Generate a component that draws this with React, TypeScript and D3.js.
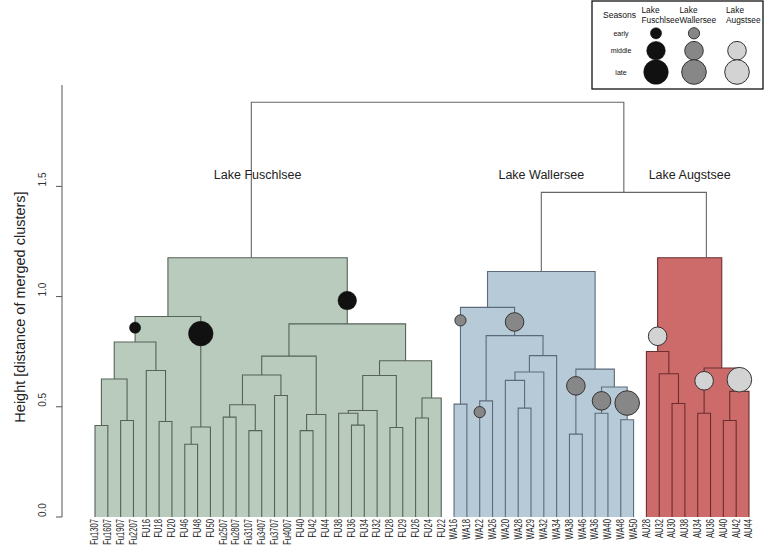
import React from "react";
import * as d3 from "d3";

// ---------- data ----------
const fuLeaves = ["Fu1307","Fu1607","Fu1907","Fu2207","FU16","FU18","FU20","FU46","FU48","FU50","Fu2507","Fu2807","Fu3107","Fu3407","Fu3707","Fu4007","FU40","FU42","FU44","FU38","FU36","FU34","FU32","FU28","FU29","FU26","FU24","FU22"];
const waLeaves = ["WA16","WA18","WA22","WA26","WA20","WA28","WA29","WA32","WA34","WA38","WA46","WA36","WA40","WA48","WA50"];
const auLeaves = ["AU28","AU32","AU30","AU38","AU34","AU36","AU40","AU42","AU44"];

type Merge = [string, string, string, number];

const fuMerges: Merge[] = [
  ["F1", "Fu1307", "Fu1607", 0.415],
  ["F2", "Fu1907", "Fu2207", 0.438],
  ["F3", "F1", "F2", 0.626],
  ["F4", "FU18", "FU20", 0.433],
  ["F5", "FU16", "F4", 0.665],
  ["F6", "F3", "F5", 0.794],
  ["F7", "FU46", "FU48", 0.330],
  ["F8", "F7", "FU50", 0.408],
  ["F9", "F6", "F8", 0.910],
  ["F10", "Fu2507", "Fu2807", 0.453],
  ["F11", "Fu3107", "Fu3407", 0.392],
  ["F12", "F10", "F11", 0.509],
  ["F13", "Fu3707", "Fu4007", 0.551],
  ["F14", "F12", "F13", 0.644],
  ["F15", "FU40", "FU42", 0.392],
  ["F16", "F15", "FU44", 0.465],
  ["F17", "F14", "F16", 0.730],
  ["F18", "FU36", "FU34", 0.417],
  ["F19", "FU38", "F18", 0.471],
  ["F20", "F19", "FU32", 0.483],
  ["F21", "FU28", "FU29", 0.406],
  ["F22", "F20", "F21", 0.642],
  ["F23", "FU26", "FU24", 0.449],
  ["F24", "F23", "FU22", 0.540],
  ["F25", "F22", "F24", 0.709],
  ["F26", "F17", "F25", 0.876],
  ["FU", "F9", "F26", 1.176],
];

const waMerges: Merge[] = [
  ["W1", "WA16", "WA18", 0.512],
  ["W2", "WA22", "WA26", 0.527],
  ["W3", "WA28", "WA29", 0.494],
  ["W4", "WA20", "W3", 0.620],
  ["W5", "W4", "WA32", 0.658],
  ["W6", "W5", "WA34", 0.732],
  ["W7", "W2", "W6", 0.823],
  ["W8", "W1", "W7", 0.951],
  ["W9", "WA38", "WA46", 0.376],
  ["W10", "WA36", "WA40", 0.471],
  ["W11", "WA48", "WA50", 0.441],
  ["W12", "W10", "W11", 0.590],
  ["W13", "W9", "W12", 0.671],
  ["WA", "W8", "W13", 1.114],
];

const auMerges: Merge[] = [
  ["A1", "AU30", "AU38", 0.515],
  ["A2", "AU32", "A1", 0.650],
  ["A3", "AU28", "A2", 0.751],
  ["A4", "AU34", "AU36", 0.471],
  ["A5", "AU40", "AU42", 0.438],
  ["A6", "A5", "AU44", 0.570],
  ["A7", "A4", "A6", 0.676],
  ["AU", "A3", "A7", 1.176],
];

const topMerges: Merge[] = [
  ["WAAU", "WA", "AU", 1.473],
  ["ROOT", "FU", "WAAU", 1.882],
];

// where along its own merge bar each lake cluster is joined upward (fraction of bar)
const lakeKeys = ["FU", "WA", "AU"];
const lakeJoinFraction = [0.465, 0.5, 0.76];

const dotNodes = ["F6", "F8", "F26", "W1", "W7", "WA22", "W9", "W10", "W11", "A3", "A4", "A6"];
const dotHeights = [0.859, 0.832, 0.982, 0.892, 0.885, 0.476, 0.595, 0.527, 0.517, 0.820, 0.618, 0.623];
const dotSeasons = ["early", "late", "middle", "early", "middle", "early", "middle", "middle", "late", "middle", "middle", "late"];

const lakeNames = ["Lake Fuschlsee", "Lake Wallersee", "Lake Augstsee"];
const seasons = ["early", "middle", "late"];
const yTicks = [0, 0.5, 1, 1.5];

// ---------- styles ----------
const lakeFill: Record<string, string> = { FU: "#b9cbbc", WA: "#b6cad8", AU: "#cd6a6a" };
const lakeLine: Record<string, string> = { FU: "#56625a", WA: "#5c6b79", AU: "#6a2e2e" };
const dotFill: Record<string, string> = { FU: "#111111", WA: "#878787", AU: "#d3d3d3" };
const dotR: Record<string, number> = { early: 5.6, middle: 9.3, late: 12.3 };
const FONT = "'Liberation Sans', Arial, Helvetica, sans-serif";

export default function App() {
  const allLeaves = [...fuLeaves, ...waLeaves, ...auLeaves];
  const x = d3.scalePoint<string>().domain(allLeaves).range([95, 749]);
  const y = d3.scaleLinear().domain([0, 1.96]).range([517, 85]);

  type N = { up: number; h: number; lake: string | null; mid: number };
  const nodes: Record<string, N> = {};
  const addLeaf = (l: string, lake: string) => {
    const px = x(l)!;
    nodes[l] = { up: px, h: 0, lake, mid: px };
  };
  fuLeaves.forEach((l) => addLeaf(l, "FU"));
  waLeaves.forEach((l) => addLeaf(l, "WA"));
  auLeaves.forEach((l) => addLeaf(l, "AU"));

  const groups: [Merge[], string | null][] = [
    [fuMerges, "FU"],
    [waMerges, "WA"],
    [auMerges, "AU"],
    [topMerges, null],
  ];
  const all: { m: Merge; lake: string | null }[] = [];
  groups.forEach(([ms, lake]) =>
    ms.forEach((m) => {
      const [id, a, b, h] = m;
      const xa = nodes[a].up, xb = nodes[b].up;
      const li = lakeKeys.indexOf(id);
      const frac = li >= 0 ? lakeJoinFraction[li] : 0.5;
      nodes[id] = { up: xa + (xb - xa) * frac, h, lake, mid: (xa + xb) / 2 };
      all.push({ m, lake });
    })
  );

  const fills = all
    .filter((d) => d.lake)
    .map(({ m, lake }, i) => {
      const a = nodes[m[1]], b = nodes[m[2]];
      return (
        <rect key={"f" + i} x={a.up} y={y(m[3])} width={b.up - a.up} height={y(0) - y(m[3])} fill={lakeFill[lake!]} />
      );
    });

  const links = all.map(({ m, lake }, i) => {
    const a = nodes[m[1]], b = nodes[m[2]];
    const p = d3.path();
    p.moveTo(a.up, y(a.h));
    p.lineTo(a.up, y(m[3]));
    p.lineTo(b.up, y(m[3]));
    p.lineTo(b.up, y(b.h));
    return (
      <path key={"l" + i} d={p.toString()} fill="none" stroke={lake ? lakeLine[lake] : "#666"} strokeWidth={1.1} />
    );
  });

  const dots = dotNodes.map((id, i) => {
    const n = nodes[id];
    const lake = n.lake!;
    return (
      <circle key={"d" + i} cx={n.up} cy={y(dotHeights[i])} r={dotR[dotSeasons[i]]} fill={dotFill[lake]}
        stroke={lake === "FU" ? "#111" : "#333"} strokeWidth={lake === "FU" ? 0.5 : 1} />
    );
  });

  // legend
  const legX = [656, 694, 737];
  const legY = [33.3, 50.7, 72];
  const legendCircles: React.ReactElement[] = [];
  lakeKeys.forEach((k, li) =>
    seasons.forEach((s, si) => {
      if (k === "AU" && s === "early") return;
      legendCircles.push(
        <circle key={k + s} cx={legX[li]} cy={legY[si]} r={dotR[s]} fill={dotFill[k]}
          stroke={k === "FU" ? "#111" : "#333"} strokeWidth={k === "FU" ? 0.5 : 1} />
      );
    })
  );

  return (
    <svg width={766} height={552} style={{ position: "absolute", left: 0, top: 0, background: "#fff" }} fontFamily={FONT}>
      <rect x={0} y={0} width={766} height={552} fill="#fff" />
      {fills}
      {links}
      {dots}

      {/* y axis */}
      <line x1={62} x2={62} y1={y(0)} y2={y(1.96)} stroke="#555" strokeWidth={1} />
      {yTicks.map((t) => (
        <g key={t}>
          <line x1={56} x2={62} y1={y(t)} y2={y(t)} stroke="#555" strokeWidth={1} />
          <text transform={`translate(42,${y(t)}) rotate(-90)`} fontSize={10} fill="#333" dominantBaseline="central" textAnchor="start">
            {d3.format(".1f")(t)}
          </text>
        </g>
      ))}
      <text transform={`translate(20,307) rotate(-90)`} fontSize={14.5} fill="#222" textAnchor="middle" dominantBaseline="central">
        Height [distance of merged clusters]
      </text>

      {/* leaf labels */}
      {allLeaves.map((l) => (
        <text key={l} transform={`translate(${x(l)},519) rotate(-90) scale(0.76,1)`} fontSize={10} fill="#222"
          textAnchor="end" dominantBaseline="central">
          {l}
        </text>
      ))}

      {/* lake labels */}
      {lakeKeys.map((k, i) => (
        <text key={k} x={nodes[k].mid} y={179} fontSize={12.5} fill="#222" textAnchor="middle">
          {lakeNames[i]}
        </text>
      ))}

      {/* legend */}
      <rect x={592} y={1} width={171} height={88} fill="#fff" stroke="#111" strokeWidth={1.3} />
      <text x={603} y={18} fontSize={8.5} fill="#111">Seasons</text>
      {lakeNames.map((name, i) => {
        const lx = [641.5, 679.5, 726][i];
        return (
          <g key={"lg" + i}>
            <text x={lx} y={13} fontSize={8.3} fill="#111">Lake</text>
            <text x={lx} y={22.5} fontSize={8.3} fill="#111">{name.replace("Lake ", "")}</text>
          </g>
        );
      })}
      {seasons.map((s, si) => (
        <text key={s} x={621} y={legY[si]} fontSize={7} fill="#111" textAnchor="middle" dominantBaseline="central">
          {s}
        </text>
      ))}
      {legendCircles}
    </svg>
  );
}
